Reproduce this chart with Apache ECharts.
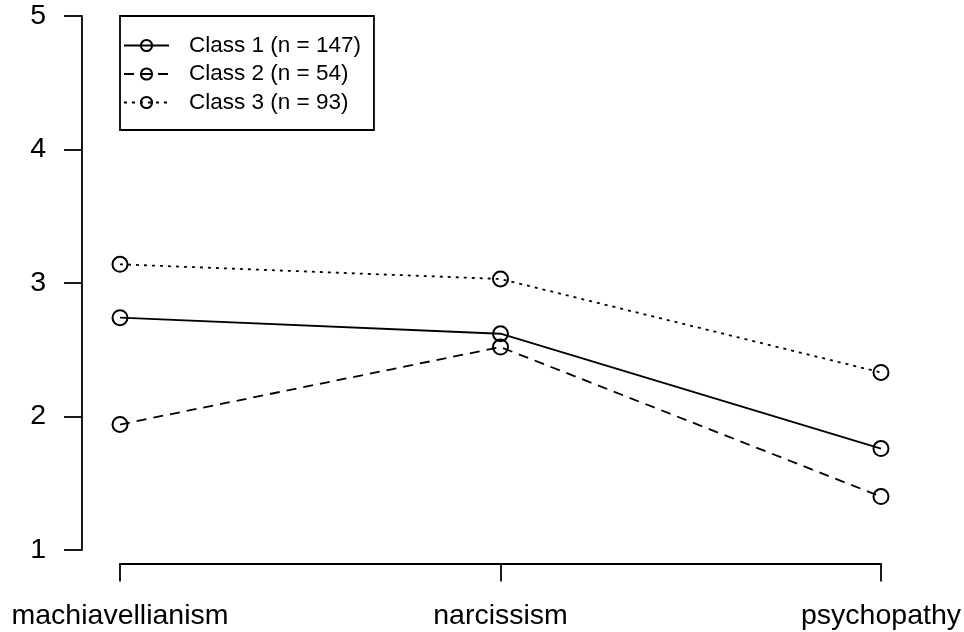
<!DOCTYPE html>
<html>
<head>
<meta charset="utf-8">
<script src="https://cdn.jsdelivr.net/npm/echarts@6/dist/echarts.min.js"></script>
<style>
  html, body { margin: 0; padding: 0; background: #fff; }
  #chart { width: 964px; height: 632px; }
</style>
</head>
<body>
<div id="chart"></div>
<script>
var categories = ['machiavellianism', 'narcissism', 'psychopathy'];
var class1 = [2.74, 2.62, 1.76];
var class2 = [1.94, 2.52, 1.40];
var class3 = [3.14, 3.03, 2.33];
var seriesNames = ['Class 1 (n = 147)', 'Class 2 (n = 54)', 'Class 3 (n = 93)'];

var chart = echarts.init(document.getElementById('chart'));
var font = 'Liberation Sans, Arial, sans-serif';

function mkSeries(name, data, dash) {
    return {
        name: name,
        type: 'line',
        data: data,
        symbol: 'circle',
        symbolSize: 15,
        itemStyle: { color: 'transparent', borderColor: '#000', borderWidth: 2 },
        lineStyle: { color: '#000', width: 1.8, type: dash },
        emphasis: { disabled: true },
        animation: false
    };
}

var option = {
    backgroundColor: '#fff',
    grid: { left: 120, right: 83, top: 16, bottom: 82 },
    legend: {
        orient: 'vertical',
        left: 120,
        top: 16,
        data: seriesNames,
        itemWidth: 45,
        itemHeight: 14,
        itemGap: 5.5,
        padding: [18, 13, 16, 3],
        borderColor: '#000',
        borderWidth: 1.8,
        borderRadius: 0,
        textStyle: { fontFamily: font, fontSize: 22.5, color: '#000', lineHeight: 22, padding: [0, 0, 0, 15] }
    },
    xAxis: {
        type: 'category',
        data: categories,
        boundaryGap: false,
        offset: 13.5,
        axisLine: { show: true, lineStyle: { color: '#000', width: 1.8 } },
        axisTick: { show: true, length: 18, alignWithLabel: true, lineStyle: { color: '#000', width: 1.8 } },
        axisLabel: { fontFamily: font, fontSize: 28.5, color: '#000', margin: 38, interval: 0 },
        splitLine: { show: false }
    },
    yAxis: {
        type: 'value',
        min: 1,
        max: 5,
        interval: 1,
        offset: 38,
        axisLine: { show: true, lineStyle: { color: '#000', width: 1.8 } },
        axisTick: { show: true, length: 18, lineStyle: { color: '#000', width: 1.8 } },
        axisLabel: { fontFamily: font, fontSize: 28.5, color: '#000', margin: 36 },
        splitLine: { show: false }
    },
    series: [
        mkSeries(seriesNames[0], class1, 'solid'),
        mkSeries(seriesNames[1], class2, [10, 7]),
        mkSeries(seriesNames[2], class3, [3, 5])
    ]
};
chart.setOption(option);
</script>
</body>
</html>
